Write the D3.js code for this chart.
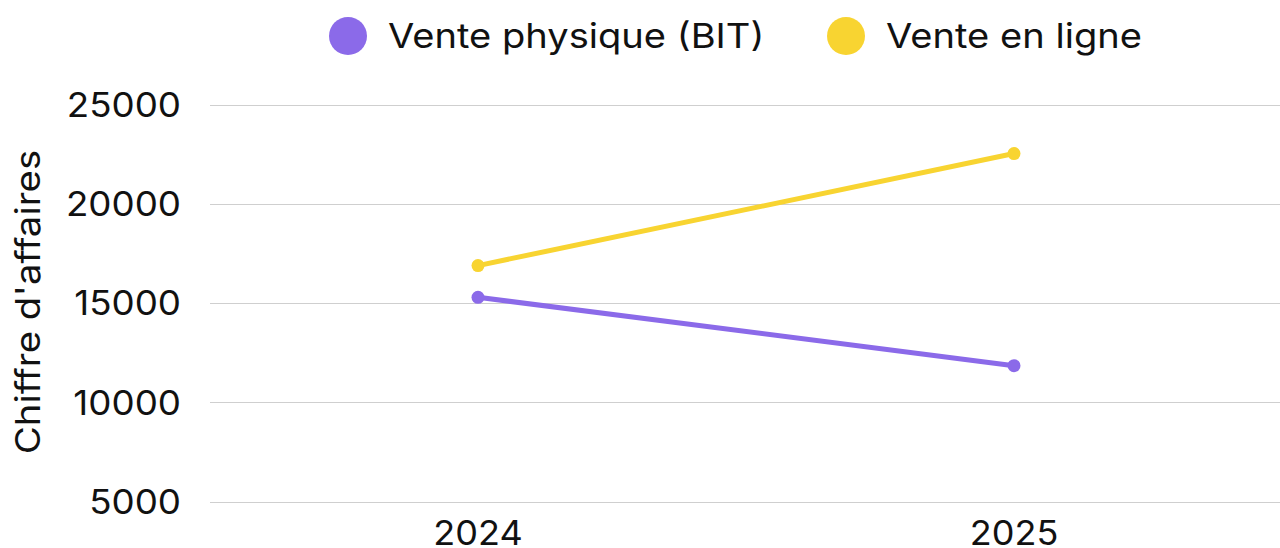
<!DOCTYPE html>
<html>
<head>
<meta charset="utf-8">
<script src="https://cdn.jsdelivr.net/npm/d3@7"></script>
<style>
  body { margin: 0; background: #fff; }
  svg text { font-family: Inter, "Noto Sans", sans-serif; fill: #111; }
</style>
</head>
<body>
<svg id="chart" width="1280" height="548"></svg>
<script>
// data
var years = ["2024", "2025"];
var physique = [15300, 11850];
var enLigne = [16900, 22550];
var yTicks = [5000, 10000, 15000, 20000, 25000];
var seriesNames = ["Vente physique (BIT)", "Vente en ligne"];
var seriesColors = ["#8b6ae9", "#f8d431"];

var svg = d3.select("#chart");
var W = 1280, H = 548;

var x = d3.scalePoint().domain(years).range([210, 1282]).padding(0.5);
var y = d3.scaleLinear().domain([5000, 25000]).range([501.5, 105]);

// the original font is wider than Inter: widen the glyphs a bit
function widen(sel, factor) {
	sel.each(function() {
		var w = this.getComputedTextLength();
		d3.select(this).attr("textLength", w * factor).attr("lengthAdjust", "spacingAndGlyphs");
	});
}

// gridlines
svg.append("g")
	.selectAll("line")
	.data(yTicks)
	.join("line")
	.attr("x1", 210).attr("x2", W)
	.attr("y1", function(d) {return Math.round(y(d)) + 0.5})
	.attr("y2", function(d) {return Math.round(y(d)) + 0.5})
	.attr("stroke", "#cfcfcf")
	.attr("stroke-width", 1);

// y tick labels
svg.append("g")
	.selectAll("text")
	.data(yTicks)
	.join("text")
	.attr("x", 181)
	.attr("y", function(d) {return y(d)})
	.attr("dy", "0.36em")
	.attr("text-anchor", "end")
	.attr("font-size", 34)
	.text(function(d) {return d})
	.call(widen, 1.08);

// x labels
svg.append("g")
	.selectAll("text")
	.data(years)
	.join("text")
	.attr("x", function(d) {return x(d)})
	.attr("y", 545)
	.attr("text-anchor", "middle")
	.attr("font-size", 34)
	.text(function(d) {return d})
	.call(widen, 1.06);

// y axis title
svg.append("text")
	.attr("transform", "translate(40,302) rotate(-90)")
	.attr("text-anchor", "middle")
	.attr("font-size", 34)
	.text("Chiffre d'affaires")
	.call(widen, 1.13);

// series
var series = [physique, enLigne];
var line = d3.line()
	.x(function(d, i) {return x(years[i])})
	.y(function(d) {return y(d)});

series.forEach(function(vals, s) {
	var g = svg.append("g");
	g.append("path")
		.attr("d", line(vals))
		.attr("fill", "none")
		.attr("stroke", seriesColors[s])
		.attr("stroke-width", 5);
	g.selectAll("circle")
		.data(vals)
		.join("circle")
		.attr("cx", function(d, i) {return x(years[i])})
		.attr("cy", function(d) {return y(d)})
		.attr("r", 6.5)
		.attr("fill", seriesColors[s]);
});

// legend
var legendX = [348, 846];
var legend = svg.append("g")
	.selectAll("g")
	.data(seriesNames)
	.join("g")
	.attr("transform", function(d, i) {return "translate(" + legendX[i] + ",36)"});
legend.append("circle")
	.attr("r", 19)
	.attr("fill", function(d, i) {return seriesColors[i]});
legend.append("text")
	.attr("x", 40)
	.attr("dy", "0.36em")
	.attr("font-size", 34)
	.text(function(d) {return d})
	.call(widen, 1.12);
</script>
</body>
</html>
